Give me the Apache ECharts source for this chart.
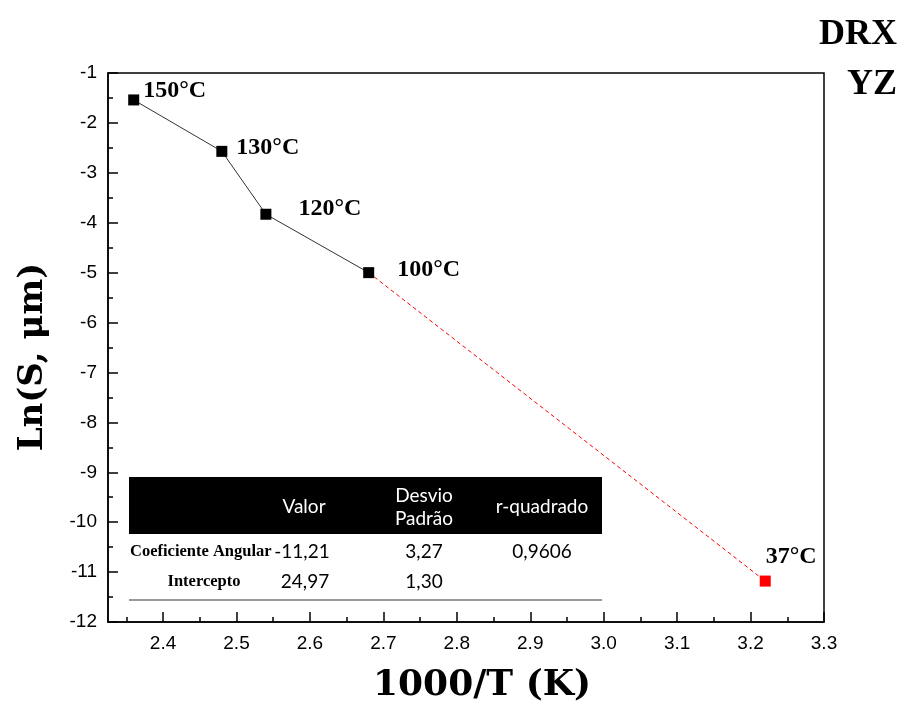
<!DOCTYPE html>
<html>
<head>
<meta charset="utf-8">
<script src="https://cdn.jsdelivr.net/npm/echarts@6/dist/echarts.min.js"></script>
<style>
  html, body { margin: 0; padding: 0; background: #fff; }
  #chart { width: 904px; height: 709px; }
</style>
</head>
<body>
<div id="chart"></div>
<script>
// Measured points: 1000/T (K^-1) versus ln of grain size
const temperatureLabels = ['150°C', '130°C', '120°C', '100°C'];
const inverseTemp = [2.36, 2.48, 2.54, 2.68];
const lnSize = [-1.54, -2.57, -3.83, -5.00];

// Extrapolated point at body temperature
const extrapLabel = '37°C';
const extrapX = 3.22;
const extrapY = -11.18;

// Axis ticks
const xMajorTicks = [2.4, 2.5, 2.6, 2.7, 2.8, 2.9, 3.0, 3.1, 3.2, 3.3];
const xMinorTicks = [2.35, 2.45, 2.55, 2.65, 2.75, 2.85, 2.95, 3.05, 3.15, 3.25];

// Linear fit summary table
const tableHeader = ['Valor', 'Desvio\nPadrão', 'r-quadrado'];
const tableRowNames = ['Coeficiente Angular', 'Intercepto'];
const tableValor = ['-11,21', '24,97'];
const tableDesvio = ['3,27', '1,30'];
const tableR2 = ['0,9606', ''];

// Label placement next to each square marker (pixels)
const labelOffsets = [[4, -9], [9, -4], [27, -5], [23, -3]];

const serifBold = '"Liberation Serif", "DejaVu Serif", serif';
const titleSerif = '"DejaVu Serif", "Liberation Serif", serif';
const sansTable = 'Lato, "Open Sans", sans-serif';

const chart = echarts.init(document.getElementById('chart'), null, { renderer: 'canvas' });

const blackPoints = inverseTemp.map((x, i) => ({
  value: [x, lnSize[i]],
  label: { show: true, formatter: temperatureLabels[i], offset: labelOffsets[i] }
}));

const tableLeft = 129, tableRight = 602;
const colValor = 304, colDesvio = 424, colR2 = 542;
const row1Y = 552, row2Y = 582;

const graphics = [
  // Axis titles and panel tag
  { type: 'text', x: 33, y: 357, rotation: Math.PI / 2,
    style: { text: 'Ln(S, μm)', font: 'bold 34px ' + titleSerif, fill: '#000', textAlign: 'center', textVerticalAlign: 'middle' } },
  { type: 'text', x: 482, y: 686,
    style: { text: '1000/T (K)', font: 'bold 36px ' + titleSerif, fill: '#000', textAlign: 'center', textVerticalAlign: 'middle' } },
  { type: 'text', x: 897, y: 35,
    style: { text: 'DRX', font: 'bold 36px ' + serifBold, fill: '#000', textAlign: 'right', textVerticalAlign: 'middle' } },
  { type: 'text', x: 897, y: 85,
    style: { text: 'YZ', font: 'bold 36px ' + serifBold, fill: '#000', textAlign: 'right', textVerticalAlign: 'middle' } },

  // Fit table: header band
  { type: 'rect', shape: { x: tableLeft, y: 477, width: tableRight - tableLeft, height: 57 }, style: { fill: '#000' }, z: 10 },
  { type: 'text', x: colValor, y: 507, z: 11,
    style: { text: tableHeader[0], font: '19px ' + sansTable, fill: '#fff', textAlign: 'center', textVerticalAlign: 'middle' } },
  { type: 'text', x: colDesvio, y: 507, z: 11,
    style: { text: tableHeader[1], font: '19px ' + sansTable, lineHeight: 23, fill: '#fff', textAlign: 'center', textVerticalAlign: 'middle' } },
  { type: 'text', x: colR2, y: 507, z: 11,
    style: { text: tableHeader[2], font: '19px ' + sansTable, fill: '#fff', textAlign: 'center', textVerticalAlign: 'middle' } },

  // Fit table: rows
  { type: 'text', x: 130, y: row1Y, z: 11,
    style: { text: tableRowNames[0], font: 'bold 16.5px ' + serifBold, fill: '#000', textAlign: 'left', textVerticalAlign: 'middle' } },
  { type: 'text', x: 204, y: row2Y, z: 11,
    style: { text: tableRowNames[1], font: 'bold 16.5px ' + serifBold, fill: '#000', textAlign: 'center', textVerticalAlign: 'middle' } },
  { type: 'text', x: colValor - 2, y: row1Y, z: 11,
    style: { text: tableValor[0], font: '19px ' + sansTable, fill: '#000', textAlign: 'center', textVerticalAlign: 'middle' } },
  { type: 'text', x: colValor + 1, y: row2Y, z: 11,
    style: { text: tableValor[1], font: '19px ' + sansTable, fill: '#000', textAlign: 'center', textVerticalAlign: 'middle' } },
  { type: 'text', x: colDesvio, y: row1Y, z: 11,
    style: { text: tableDesvio[0], font: '19px ' + sansTable, fill: '#000', textAlign: 'center', textVerticalAlign: 'middle' } },
  { type: 'text', x: colDesvio, y: row2Y, z: 11,
    style: { text: tableDesvio[1], font: '19px ' + sansTable, fill: '#000', textAlign: 'center', textVerticalAlign: 'middle' } },
  { type: 'text', x: colR2, y: row1Y, z: 11,
    style: { text: tableR2[0], font: '19px ' + sansTable, fill: '#000', textAlign: 'center', textVerticalAlign: 'middle' } },
  { type: 'line', shape: { x1: tableLeft, y1: 600, x2: tableRight, y2: 600 }, style: { stroke: '#777', lineWidth: 1.5 }, z: 11 }
];

const pointLabel = {
  position: 'right', distance: 0, color: '#000',
  fontFamily: serifBold, fontWeight: 'bold', fontSize: 24
};

const option = {
  backgroundColor: '#fff',
  animation: false,
  grid: {
    left: 108, right: 80, top: 73, bottom: 87,
    show: true, borderColor: '#000', borderWidth: 1.5, backgroundColor: 'transparent'
  },
  xAxis: [
    {
      type: 'value', min: 2.325, max: 3.3,
      axisLine: { show: true, onZero: false, lineStyle: { color: '#000', width: 1.5 } },
      axisTick: { show: true, inside: true, length: 10, customValues: xMajorTicks, lineStyle: { color: '#000', width: 1.5 } },
      axisLabel: {
        customValues: xMajorTicks, margin: 12,
        formatter: v => v.toFixed(1),
        fontFamily: '"Liberation Sans", Arial, sans-serif', fontSize: 19, color: '#000'
      },
      splitLine: { show: false }
    },
    {
      type: 'value', min: 2.325, max: 3.3, position: 'bottom',
      axisLine: { show: false, onZero: false },
      axisTick: { show: true, inside: true, length: 5, customValues: xMinorTicks, lineStyle: { color: '#000', width: 1.5 } },
      axisLabel: { show: false },
      splitLine: { show: false }
    }
  ],
  yAxis: {
    type: 'value', min: -12, max: -1, interval: 1,
    axisLine: { show: true, onZero: false, lineStyle: { color: '#000', width: 1.5 } },
    axisTick: { show: true, inside: true, length: 10, lineStyle: { color: '#000', width: 1.5 } },
    minorTick: { show: true, splitNumber: 2, length: 5, lineStyle: { color: '#000', width: 1.5 } },
    axisLabel: {
      margin: 11, fontFamily: '"Liberation Sans", Arial, sans-serif', fontSize: 19, color: '#000'
    },
    splitLine: { show: false },
    minorSplitLine: { show: false }
  },
  series: [
    {
      name: 'extrapolação',
      type: 'line',
      data: [[inverseTemp[inverseTemp.length - 1], lnSize[lnSize.length - 1]], [extrapX, extrapY]],
      symbol: 'none',
      lineStyle: { color: '#ff0000', width: 1, type: [4, 3] },
      z: 2
    },
    {
      name: 'extrapolado',
      type: 'scatter',
      data: [{ value: [extrapX, extrapY], label: { show: true, formatter: extrapLabel, offset: [-5, -24] } }],
      symbol: 'rect', symbolSize: 11,
      itemStyle: { color: '#ff0000', opacity: 1 },
      label: pointLabel,
      z: 4
    },
    {
      name: 'medido',
      type: 'line',
      data: blackPoints,
      symbol: 'rect', symbolSize: 11,
      showAllSymbol: true,
      itemStyle: { color: '#000', opacity: 1 },
      lineStyle: { color: '#333', width: 1 },
      label: pointLabel,
      z: 3
    }
  ],
  graphic: graphics
};

chart.setOption(option);
</script>
</body>
</html>
